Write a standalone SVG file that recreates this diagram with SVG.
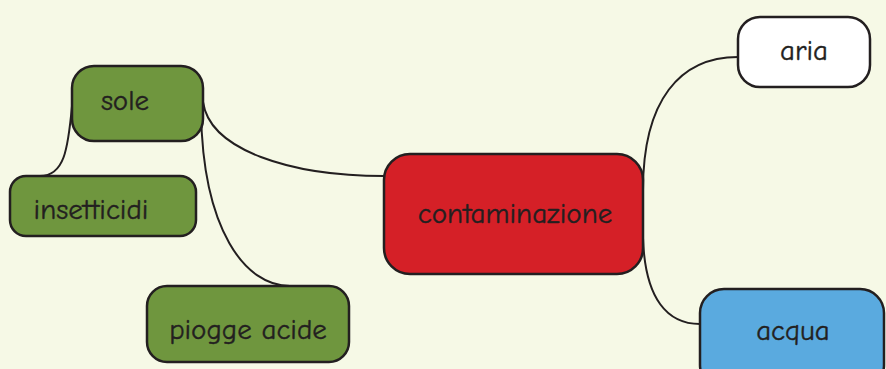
<svg xmlns="http://www.w3.org/2000/svg" width="886" height="369" viewBox="0 0 886 369">
<style>
.n{stroke:#231f20;stroke-width:2.5}
.g{fill:#6f963e}
.t{font-family:"Comic Neue","Open Sans","Noto Sans",sans-serif;font-size:29px;fill:#231f20;text-anchor:middle;stroke:#231f20;stroke-width:0.4}
.c{fill:none;stroke:#231f20;stroke-width:2}
</style>
<rect width="886" height="369" fill="#f6f9e6"/>
<g id="connectors">
<path class="c" d="M203,102 C210,150 290,176 384,176"/>
<path class="c" d="M72,106 C68,150 64,176 40,176"/>
<path class="c" d="M201,112 C203,230 245,286 290,286"/>
<path class="c" d="M643,190 C643,100 680,57 738,57"/>
<path class="c" d="M643,238 C645,300 668,324 700,324"/>
</g>
<g id="sole"><rect class="n g" x="72" y="66" width="131" height="75" rx="22"/><text class="t" x="125" y="110">sole</text></g>
<g id="insetticidi"><rect class="n g" x="10" y="176" width="186" height="60" rx="16"/><text class="t" x="91" y="219">insetticidi</text></g>
<g id="piogge"><rect class="n g" x="147" y="286" width="202" height="76" rx="20"/><text class="t" x="248" y="339">piogge acide</text></g>
<g id="contaminazione"><rect class="n" fill="#d52027" x="384" y="154" width="259" height="120" rx="26"/><text class="t" x="515" y="223">contaminazione</text></g>
<g id="aria"><rect class="n" fill="#ffffff" x="738" y="17" width="132" height="70" rx="22"/><text class="t" x="804" y="60">aria</text></g>
<g id="acqua"><rect class="n" fill="#5aaadf" x="700" y="289" width="184" height="100" rx="24"/><text class="t" x="793" y="340">acqua</text></g>
</svg>
